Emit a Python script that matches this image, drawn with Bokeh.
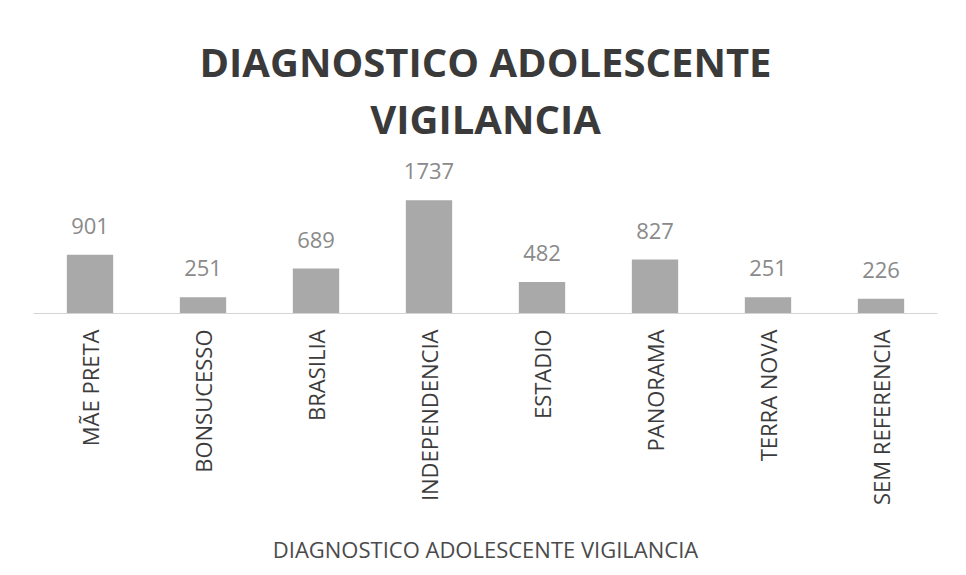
import math
from bokeh.plotting import figure
from bokeh.models import ColumnDataSource, Label, Range1d
from bokeh.core.properties import value
from bokeh.embed import file_html
from bokeh.resources import INLINE

categories = ["MÃE PRETA", "BONSUCESSO", "BRASILIA", "INDEPENDENCIA",
              "ESTADIO", "PANORAMA", "TERRA NOVA", "SEM REFERENCIA"]
counts = [901, 251, 689, 1737, 482, 827, 251, 226]
title_lines = ["DIAGNOSTICO ADOLESCENTE", "VIGILANCIA"]
axis_title = "DIAGNOSTICO ADOLESCENTE VIGILANCIA"

src = ColumnDataSource(dict(cat=categories, n=counts, lbl=[str(v) for v in counts]))

p = figure(x_range=categories, y_range=Range1d(0, 4800), width=950, height=568,
           output_backend="svg", toolbar_location=None,
           min_border_left=33, min_border_right=13, min_border_top=0, min_border_bottom=255)
p.background_fill_color = "white"
p.border_fill_color = "white"
p.outline_line_color = None
p.grid.visible = False
p.yaxis.visible = False

p.vbar(x="cat", top="n", width=0.41, source=src, fill_color="#a9a9a9",
       line_color=None)
p.text(x="cat", y="n", text="lbl", source=src, text_align="center",
       text_baseline="bottom", y_offset=-21, text_font=value("Open Sans"),
       text_font_size="22px", text_color="#8a8a8a")

xa = p.xaxis[0]
xa.major_label_orientation = math.pi / 2
xa.major_label_text_font = "Open Sans"
xa.major_label_text_font_size = "22px"
xa.major_label_text_color = "#3c3c3c"
xa.major_label_standoff = 10
xa.major_tick_line_color = None
xa.minor_tick_line_color = None
xa.axis_line_color = "#d4d4d4"
xa.axis_label = axis_title
xa.axis_label_text_font = "Open Sans"
xa.axis_label_text_font_style = "normal"
xa.axis_label_text_font_size = "22px"
xa.axis_label_text_color = "#4a4a4a"
xa.axis_label_standoff = 26

for line, yc in zip(title_lines, [252, 195]):
    p.add_layout(Label(x=452, y=yc, x_units="screen", y_units="screen", text=line,
                       text_align="center", text_baseline="middle",
                       text_font="Open Sans", text_font_style="bold",
                       text_font_size="40px", text_color="#3a3a3a"))

open("out.html", "w").write(file_html(p, INLINE))
